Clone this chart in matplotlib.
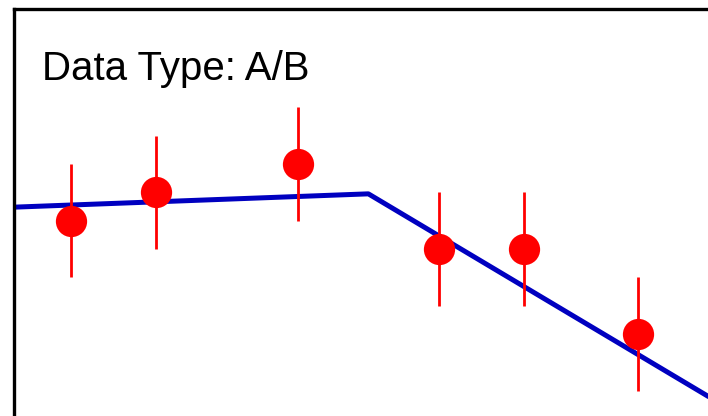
import matplotlib
matplotlib.use("Agg")
import matplotlib.pyplot as plt

# Measured points with symmetric uncertainties
x_pts = [2, 5, 10, 15, 18, 22]
y_pts = [8, 9, 10, 7, 7, 4]
y_err = [2, 2, 2, 2, 2, 2]

# Broken-line model: knots of the two segments
fit_x = [0, 12.5, 25]
fit_y = [8.48, 8.95, 1.50]

label = "Data Type: A/B"

W, H, DPI = 708, 416, 100
fig = plt.figure(figsize=(W / DPI, H / DPI), dpi=DPI)

# Axes frame extends past the right and bottom edges of the canvas
unit = 28.35                      # pixels per data unit
x0_px, top_px = 14, 9
xmax, ymax = 26.0, 15.47
left = x0_px / W
width = xmax * unit / W
height = ymax * unit / H
bottom = 1 - top_px / H - height
ax = fig.add_axes([left, bottom, width, height])
ax.set_xlim(0, xmax)
ax.set_ylim(0, ymax)
ax.set_xticks([])
ax.set_yticks([])
for sp in ax.spines.values():
    sp.set_linewidth(2.4)
    sp.set_color("black")

ax.plot(fit_x, fit_y, color="#0000C0", linewidth=3.6, zorder=2,
        solid_capstyle="butt")
ax.errorbar(x_pts, y_pts, yerr=y_err, fmt="o", color="red",
            markersize=22.5, markeredgewidth=0, elinewidth=2.0,
            capsize=0, zorder=3)

fig.text(42 / W, 1 - 80 / H, label, fontsize=29, va="baseline", ha="left",
         family=["Liberation Sans", "DejaVu Sans"], color="black")

fig.savefig("out.png", dpi=DPI)
